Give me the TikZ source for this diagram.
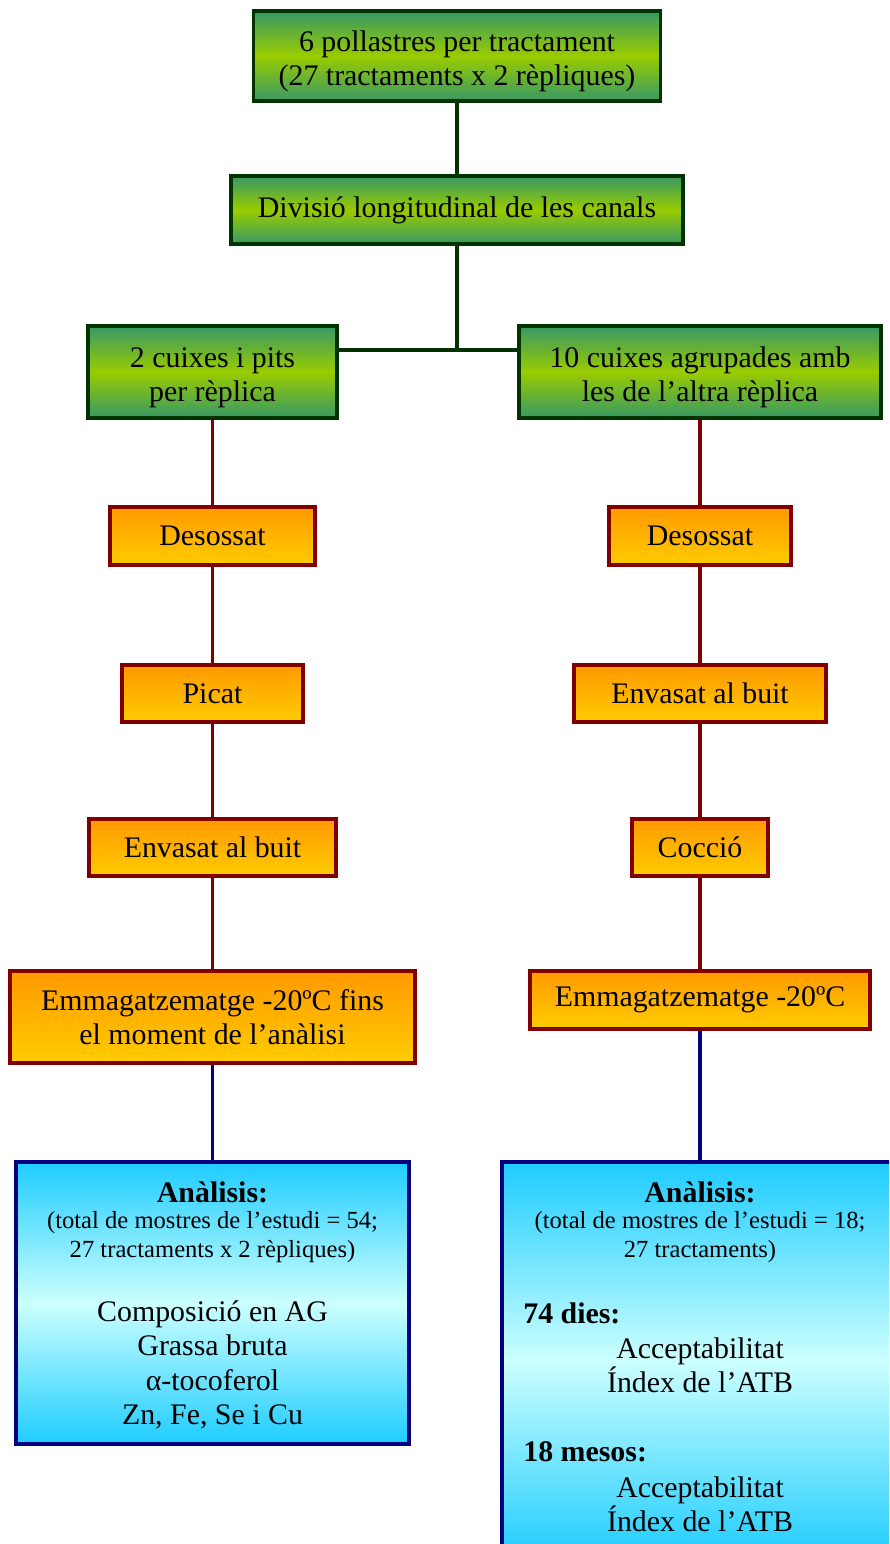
\documentclass[tikz,border=0pt]{standalone}
\usepackage{fontspec}
\setmainfont{Liberation Serif}
\definecolor{gedge}{HTML}{379866}
\definecolor{gmid}{HTML}{99CC00}
\definecolor{gline}{HTML}{003300}
\definecolor{otop}{HTML}{FF9900}
\definecolor{obot}{HTML}{FFCC00}
\definecolor{rline}{HTML}{800000}
\definecolor{btop}{HTML}{1ECCFF}
\definecolor{bmid}{HTML}{CCFFFF}
\definecolor{bline}{HTML}{000080}
\newcommand\lift{\rule{0pt}{17.5pt}}

\begin{document}
\begin{tikzpicture}[x=0.02cm, y=-0.02cm,
    gbox/.style={draw=gline, line width=1.8pt, top color=gedge, bottom color=gedge, middle color=gmid,
      align=center, inner sep=0pt, font=\fontsize{17}{19.5}\selectfont},
    obox/.style={draw=rline, line width=1.8pt, top color=otop, bottom color=obot,
      align=center, inner sep=0pt, font=\fontsize{17}{19.5}\selectfont},
    bbox/.style={draw=bline, line width=1.8pt, top color=btop, bottom color=btop, middle color=bmid,
      inner sep=0pt},
    gcon/.style={draw=gline, line width=1.8pt},
    rcon/.style={draw=rline, line width=1.8pt},
    bcon/.style={draw=bline, line width=1.8pt},
    big/.style={font=\fontsize{17}{19.5}\selectfont, inner sep=0pt, align=center},
    small/.style={font=\fontsize{14}{16.5}\selectfont, inner sep=0pt, align=center}]
    \clip (0,0) rectangle (889,1544);
    \fill[white] (0,0) rectangle (889,1544);

    \node[gbox, minimum width=8.14cm, minimum height=1.80cm] (Pol) at (457,56)
      {\lift 6 pollastres per tractament\\(27 tractaments x 2 rèpliques)};
    \node[gbox, minimum width=9.04cm, minimum height=1.36cm] (Div) at (457,210)
      {Divisió longitudinal de les canals};
    \node[gbox, minimum width=4.98cm, minimum height=1.84cm] (Ca) at (212.5,372)
      {\lift 2 cuixes i pits\\per rèplica};
    \node[gbox, minimum width=7.24cm, minimum height=1.84cm] (Cb) at (700,372)
      {\lift 10 cuixes agrupades amb\\les de l’altra rèplica};
    \coordinate (J) at (457,350);

    % left branch
    \node[obox, minimum width=4.10cm, minimum height=1.16cm] (Ld) at (212.5,536) {Desossat};
    \node[obox, minimum width=3.62cm, minimum height=1.14cm] (Lp) at (212.5,693.5) {Picat};
    \node[obox, minimum width=4.94cm, minimum height=1.14cm] (Le) at (212.5,847.5) {Envasat al buit};
    \node[obox, minimum width=8.10cm, minimum height=1.84cm] (Lm) at (212.5,1017)
      {Emmagatzematge -20ºC fins\\el moment de l’anàlisi};
    \node[bbox, minimum width=7.86cm, minimum height=5.64cm] (La) at (212.5,1303) {};

    % right branch
    \node[obox, minimum width=3.64cm, minimum height=1.16cm] (Rd) at (700,536) {Desossat};
    \node[obox, minimum width=5.04cm, minimum height=1.14cm] (Re) at (700,693.5) {Envasat al buit};
    \node[obox, minimum width=2.72cm, minimum height=1.14cm] (Rc) at (700,847.5) {Cocció};
    \node[obox, minimum width=6.80cm, minimum height=1.16cm] (Rm) at (700,1000) {Emmagatzematge -20ºC};
    \node[bbox, minimum width=7.92cm, minimum height=7.96cm] (Ra) at (700,1361) {};

    \draw[gcon] (Pol) -- (Div);
    \draw[gcon] (Div) -- (J);
    \draw[gcon] (Ca.east |- J) -- (Cb.west |- J);
    \draw[rcon] (Ca) -- (Ld);
    \draw[rcon] (Ld) -- (Lp);
    \draw[rcon] (Lp) -- (Le);
    \draw[rcon] (Le) -- (Lm);
    \draw[bcon] (Lm) -- (La);
    \draw[rcon] (Cb) -- (Rd);
    \draw[rcon] (Rd) -- (Re);
    \draw[rcon] (Re) -- (Rc);
    \draw[rcon] (Rc) -- (Rm);
    \draw[bcon] (Rm) -- (Ra);

    % analysis texts
    \node[big] (LaT) at (212.5,1192) {\bfseries Anàlisis:};
    \node[small] (LaS) at (212.5,1237) {(total de mostres de l’estudi = 54;\\27 tractaments x 2 rèpliques)};
    \node[big] (LaL) at (212.5,1365)
      {Composició en AG\\Grassa bruta\\α-tocoferol\\Zn, Fe, Se i Cu};

    \node[big] (RaT) at (700,1192) {\bfseries Anàlisis:};
    \node[small] (RaS) at (700,1237) {(total de mostres de l’estudi = 18;\\27 tractaments)};
    \node[big, anchor=west] (RaA) at (523,1313) {\bfseries 74 dies:};
    \node[big] (RaB) at (700,1365) {Acceptabilitat\\Índex de l’ATB};
    \node[big, anchor=west] (RaC) at (523,1452) {\bfseries 18 mesos:};
    \node[big] (RaD) at (700,1504) {Acceptabilitat\\Índex de l’ATB};
\end{tikzpicture}
\end{document}
